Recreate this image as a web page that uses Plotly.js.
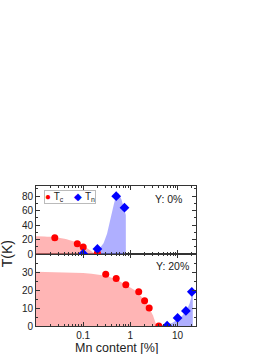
<!DOCTYPE html>
<html>
<head>
<meta charset="utf-8">
<script src="https://cdn.plot.ly/plotly-3.0.1.min.js"></script>
<style>html,body{margin:0;padding:0;background:#fff;}#chart{width:274px;height:354px;}</style>
</head>
<body>
<div id="chart"></div>
<script>
// ---- Data ----
// Y: 0% panel
const tc0X = [0.025, 0.075, 0.1, 0.2];
const tc0Y = [22.4, 14.1, 9.6, 1];
const tn0X = [0.1, 0.2, 0.5, 0.75];
const tn0Y = [0.5, 7, 80, 64];
const tc0FillX = [0.01, 0.015, 0.02, 0.03, 0.04, 0.05, 0.07, 0.1, 0.13, 0.16, 0.19];
const tc0FillY = [24.5, 24.3, 23.8, 22.5, 21, 19.5, 16.5, 11.5, 6.5, 2.5, 0];
const tn0FillX = [0.17, 0.2, 0.23, 0.27, 0.32, 0.37, 0.44, 0.5, 0.56, 0.65, 0.73, 0.8, 0.801];
const tn0FillY = [0, 4, 9, 15, 28, 44, 67, 82, 84, 75, 64, 54, 0];
// Y: 20% panel
const tc20X = [0.3, 0.5, 0.8, 1.5, 2.0, 2.5, 4.0];
const tc20Y = [28.7, 26.4, 22.9, 19, 14, 10, 0];
const tn20X = [6, 10, 15, 20];
const tn20Y = [0.2, 4.5, 8.4, 19];
const tc20FillX = [0.01, 0.03, 0.06, 0.1, 0.15, 0.2, 0.3, 0.5, 0.8, 1.2, 1.5, 2.0, 2.5, 3.0, 3.6];
const tc20FillY = [30.2, 30, 29.8, 29.5, 29.1, 28.7, 27.9, 26, 23, 20.2, 18, 14, 10, 6, 0];
const tn20FillX = [4.2, 6, 8, 10, 12, 15, 18, 20, 21, 21.01];
const tn20FillY = [0, 0.8, 2, 3.5, 5.2, 8, 12.5, 17, 20, 0];

const xTickVals = [0.1, 1, 10];
const xTickText = ['0.1', '1', '10'];
const topYTicks = [0, 20, 40, 60, 80];
const botYTicks = [0, 10, 20, 30];
const legendNames = ['T<sub>c</sub>', 'T<sub>n</sub>'];

const minorX = [];
[0.01, 0.1, 1, 10].forEach(d => { for (let k = 2; k <= 9; k++) minorX.push(d * k); });

const red = '#ff0000', blue = '#0000ff';
const redFill = 'rgba(255,120,120,0.55)', blueFill = 'rgba(110,110,255,0.55)';

const traces = [
  {x: tc0FillX, y: tc0FillY, xaxis: 'x2', yaxis: 'y2', mode: 'lines', line: {width: 0, shape: 'spline'}, fill: 'tozeroy', fillcolor: redFill, hoverinfo: 'skip'},
  {x: tn0FillX, y: tn0FillY, xaxis: 'x2', yaxis: 'y2', mode: 'lines', line: {width: 0}, fill: 'tozeroy', fillcolor: blueFill, hoverinfo: 'skip'},
  {x: tc20FillX, y: tc20FillY, xaxis: 'x', yaxis: 'y', mode: 'lines', line: {width: 0}, fill: 'tozeroy', fillcolor: redFill, hoverinfo: 'skip'},
  {x: tn20FillX, y: tn20FillY, xaxis: 'x', yaxis: 'y', mode: 'lines', line: {width: 0}, fill: 'tozeroy', fillcolor: blueFill, hoverinfo: 'skip'},
  {x: tc0X, y: tc0Y, xaxis: 'x2', yaxis: 'y2', mode: 'markers', name: legendNames[0], marker: {color: red, size: 7, symbol: 'circle'}},
  {x: tn0X, y: tn0Y, xaxis: 'x2', yaxis: 'y2', mode: 'markers', name: legendNames[1], marker: {color: blue, size: 7.5, symbol: 'diamond'}},
  {x: tc20X, y: tc20Y, xaxis: 'x', yaxis: 'y', mode: 'markers', marker: {color: red, size: 7, symbol: 'circle'}},
  {x: tn20X, y: tn20Y, xaxis: 'x', yaxis: 'y', mode: 'markers', marker: {color: blue, size: 7.5, symbol: 'diamond'}}
];

const fam = 'Liberation Sans, Arial, sans-serif';
const fnt = {family: fam, color: '#222', size: 10};
const xBase = {
  type: 'log', range: [-2, 1.39], showgrid: false, zeroline: false,
  showline: true, linecolor: '#333', linewidth: 1, mirror: 'ticks',
  ticks: 'inside', ticklen: 4, tickcolor: '#333',
  tickmode: 'array', tickvals: xTickVals, ticktext: xTickText, tickfont: fnt,
  minor: {tickmode: 'array', tickvals: minorX, ticks: 'inside', ticklen: 2, tickcolor: '#333'}
};
const yBase = {showgrid: false, zeroline: false, showline: true, linecolor: '#333', mirror: 'ticks',
  ticks: 'inside', ticklen: 4, tickcolor: '#333', tickmode: 'array', tickfont: fnt};
const legendText = '<span style="color:' + red + '">●</span> ' + legendNames[0] +
  '    <span style="color:' + blue + '">◆</span> ' + legendNames[1];
const layout = {
  width: 274, height: 354,
  margin: {l: 36, r: 78, t: 186, b: 28},
  paper_bgcolor: '#fff', plot_bgcolor: '#fff',
  font: fnt, showlegend: false,
  xaxis: Object.assign({}, xBase, {anchor: 'y', domain: [0, 1]}),
  xaxis2: Object.assign({}, xBase, {anchor: 'y2', domain: [0, 1], matches: 'x', showticklabels: false}),
  yaxis: Object.assign({}, yBase, {domain: [0, 0.514], range: [0, 40], tickvals: botYTicks,
    minor: {tickmode: 'array', tickvals: [5, 15, 25, 35], ticks: 'inside', ticklen: 2, tickcolor: '#333'}}),
  yaxis2: Object.assign({}, yBase, {domain: [0.514, 1], range: [0, 94], tickvals: topYTicks,
    minor: {tickmode: 'array', tickvals: [10, 30, 50, 70, 90], ticks: 'inside', ticklen: 2, tickcolor: '#333'}}),
  annotations: [
    {text: legendText, xref: 'paper', yref: 'paper', x: 0.05, y: 0.972, xanchor: 'left', yanchor: 'top',
      showarrow: false, bgcolor: '#fff', bordercolor: '#bbb', borderwidth: 1, borderpad: 0,
      font: {family: fam, size: 10, color: '#222'}},
    {text: 'Y: 0%', xref: 'paper', yref: 'paper', x: 0.825, y: 0.91, xanchor: 'center', yanchor: 'middle', showarrow: false, font: {family: fam, size: 10.5, color: '#222'}},
    {text: 'Y: 20%', xref: 'paper', yref: 'paper', x: 0.85, y: 0.43, xanchor: 'center', yanchor: 'middle', showarrow: false, font: {family: fam, size: 10.5, color: '#222'}},
    {text: 'T(K)', xref: 'paper', yref: 'paper', x: -0.18, y: 0.514, xanchor: 'center', yanchor: 'middle', textangle: -90, showarrow: false, font: {family: fam, size: 14, color: '#222'}},
    {text: 'Mn content [%]', xref: 'paper', yref: 'paper', x: 0.5, y: -0.155, xanchor: 'center', yanchor: 'middle', showarrow: false, font: {family: fam, size: 12.5, color: '#222'}}
  ]
};
Plotly.newPlot('chart', traces, layout, {displayModeBar: false, staticPlot: true});
</script>
</body>
</html>
